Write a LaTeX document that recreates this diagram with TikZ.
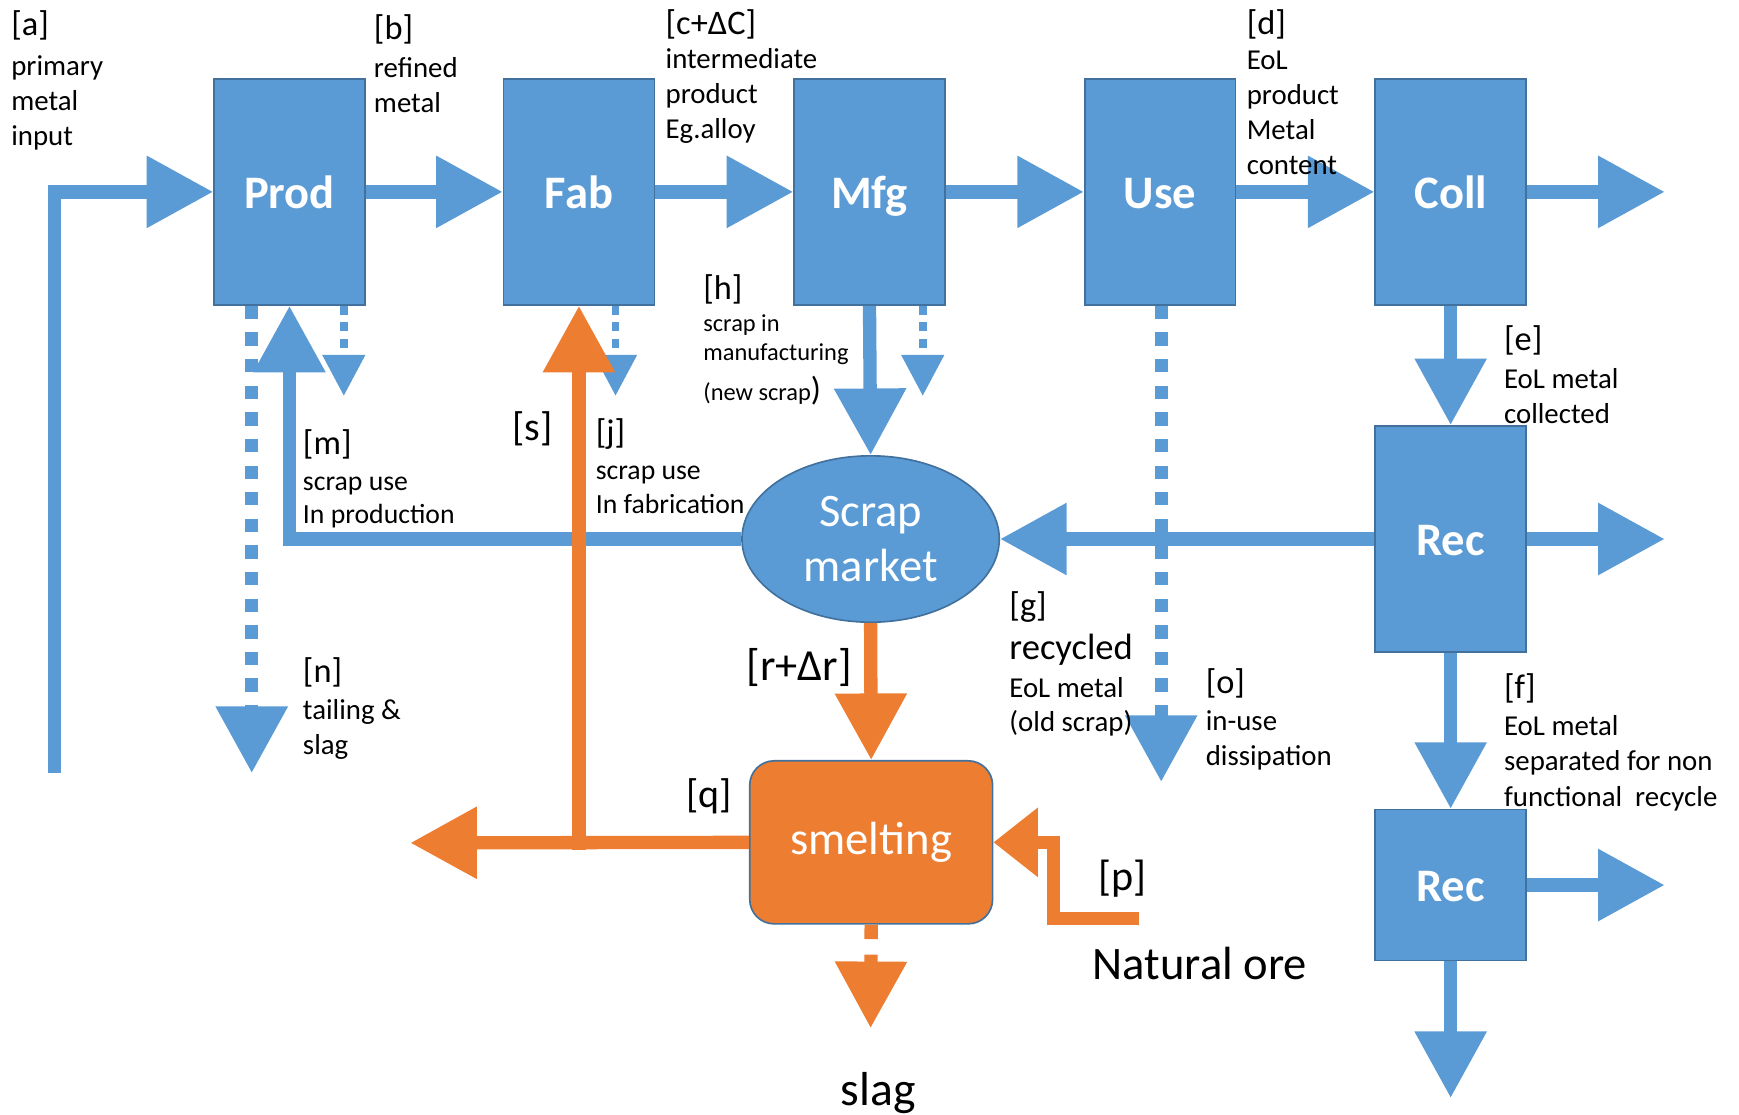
\documentclass[tikz,border=0pt]{standalone}
\usepackage{fontspec}
\setmainfont{Carlito}
\usetikzlibrary{arrows.meta,shapes.geometric}
\definecolor{flowblue}{HTML}{5B9BD5}
\definecolor{edgeblue}{HTML}{41719C}
\definecolor{floworange}{HTML}{ED7D31}
% stacked, left-aligned lines whose baseline is that of the first line
\newcommand\txtlines[2]{\vtop{\baselineskip=#1\lineskiplimit=-1000pt\lineskip=0pt\halign{##\hfil\cr#2\crcr}}}
\begin{document}
\begin{tikzpicture}[x=1pt,y=-1pt,
  procbox/.style={rectangle, fill=flowblue, draw=edgeblue, line width=1.5pt,
    minimum width=136pt, minimum height=204pt, inner sep=0pt, text=white,
    text height=37.8pt, text depth=8.4pt,
    font=\fontsize{42}{50}\selectfont\bfseries},
  flowarrow/.style={line width=12pt, line join=miter, -{Triangle[length=60pt,width=62pt]}},
  bluearrow/.style={flowarrow, draw=flowblue},
  orangearrow/.style={flowarrow, draw=floworange},
  bigdots/.style={bluearrow, dash pattern=on 12pt off 12pt},
  smalldots/.style={draw=flowblue, line width=7pt, dash pattern=on 8pt off 7pt,
    -{Triangle[length=37pt,width=37pt]}},
  tag/.style={anchor=base west, inner sep=0pt, font=\fontsize{31}{37}\selectfont},
  bigtag/.style={anchor=base west, inner sep=0pt, font=\fontsize{#1}{#1}\selectfont},
  note/.style={anchor=base west, inner sep=0pt, font=\fontsize{#1}{#1}\selectfont},
]
\useasboundingbox (0,0) rectangle (1568,1005);

% process boxes
\node[procbox] (prod) at (261,173) {Prod};
\node[procbox] (fab)  at (522,173) {Fab};
\node[procbox] (mfg)  at (784,173) {Mfg};
\node[procbox] (use)  at (1046,173) {Use};
\node[procbox] (coll) at (1308,173) {Coll};
\node[procbox] (rec)  at (1308,486) {Rec};
\node[procbox, minimum height=136pt] (recnf) at (1308,798) {Rec};
\node[ellipse, fill=flowblue, draw=edgeblue, line width=1.5pt, minimum width=232pt,
  minimum height=150pt, inner sep=0pt, text=white, align=center,
  font=\fontsize{42}{50}\selectfont] (scrap) at (785,486) {Scrap\\market};
\node[rectangle, rounded corners=22pt, fill=floworange, draw=edgeblue, line width=1.5pt,
  minimum width=219pt, minimum height=147pt, inner sep=0pt, text=white,
  font=\fontsize{42}{50}\selectfont] (smelt) at (785.5,759.5) {smelting};

% free ends of the flows
\coordinate (ain)     at (49,697);
\coordinate (collout) at (1501,173);
\coordinate (recout)  at (1501,486);
\coordinate (nfout)   at (1501,798);
\coordinate (nfdown)  at (1308,990);
\coordinate (prodloss) at (310,357);
\coordinate (fabloss)  at (555,357);
\coordinate (mfgloss)  at (832,357);
\coordinate (tail)     at (227,697);
\coordinate (dissip)   at (1047,705);
\coordinate (qout)     at (370,760);
\coordinate (sjoin)    at (522,766);
\coordinate (ore)      at (1027,828);
\coordinate (orebend)  at (950,828);
\coordinate (slagtip)  at (785,927);

% main chain
\draw[bluearrow] (ain) |- (prod.west);
\draw[bluearrow] (prod.east) -- (fab.west);
\draw[bluearrow] (fab.east) -- (mfg.west);
\draw[bluearrow] (mfg.east) -- (use.west);
\draw[bluearrow] (use.east) -- (coll.west);
\draw[bluearrow] (coll.east) -- (collout);
\draw[bluearrow] (coll.south) -- (rec.north);
\draw[bluearrow] (rec.east) -- (recout);
\draw[bluearrow] (rec.south) -- (recnf.north);
\draw[bluearrow] (recnf.east) -- (nfout);
\draw[bluearrow] (recnf.south) -- (nfdown);

% scrap flows
\draw[bluearrow] (rec.west) -- (scrap.east);
\draw[bluearrow] (scrap.west) -| (prod.south);
\draw[bluearrow] (mfg.south) -- (scrap.north);

% losses
\draw[smalldots] (prodloss |- prod.south) -- (prodloss);
\draw[smalldots] (fabloss |- fab.south) -- (fabloss);
\draw[smalldots] (mfgloss |- mfg.south) -- (mfgloss);
\draw[bigdots] (tail |- prod.south) -- (tail);
\draw[bigdots] (dissip |- use.south) -- (dissip);

% smelting loop
\draw[orangearrow] (scrap.south) -- (smelt.north);
\draw[orangearrow] (smelt.west) -- (qout);
\draw[orangearrow] (sjoin) -- (fab.south);
\draw[draw=floworange, line width=12pt, line join=miter, -{Triangle[length=40pt,width=60pt]}]
  (ore) -- (orebend) |- (smelt.east);
\draw[orangearrow, dash pattern=on 13pt off 14pt] (smelt.south) -- (slagtip);

% labels
\node[tag] (la) at (10,32) {[a]};
\node[note=26] (ta) at (10,68) {\txtlines{31.5pt}{primary\cr metal\cr input}};
\node[tag] (lb) at (337,36) {[b]};
\node[note=26] (tb) at (337,70) {\txtlines{31.5pt}{refined\cr metal}};
\node[tag] (lc) at (600,31) {[c+ΔC]};
\node[note=26] (tc) at (600,62) {\txtlines{31.5pt}{intermediate\cr product\cr Eg.alloy}};
\node[tag] (ld) at (1124,31) {[d]};
\node[note=26] (td) at (1124,63) {\txtlines{31.5pt}{EoL\cr product\cr Metal\cr content}};
\node[tag] (le) at (1356,316) {[e]};
\node[note=26] (te) at (1356,350) {\txtlines{31.5pt}{EoL metal\cr collected}};
\node[tag] (lf) at (1356,630) {[f]};
\node[note=26] (tf) at (1356,663) {\txtlines{32pt}{EoL metal\cr separated for non\cr functional\ \ recycle}};
\node[tag] (lh) at (634,270) {[h]};
\node[note=22] (th) at (634,299) {\txtlines{26pt}{scrap in\cr manufacturing\cr\noalign{\vskip10pt}(new scrap{\fontsize{30}{30}\selectfont)}}};
\node[tag] (lm) at (273,410) {[m]};
\node[note=25] (tm) at (273,442) {\txtlines{30pt}{scrap use\cr In production}};
\node[tag] (lj) at (537,400) {[j]};
\node[note=25] (tj) at (537,432) {\txtlines{31pt}{scrap use\cr In fabrication}};
\node[bigtag=36] (ls) at (462,397) {[s]};
\node[tag] (ln) at (273,615) {[n]};
\node[note=26] (tn) at (273,649) {\txtlines{31pt}{tailing \&\cr slag}};
\node[bigtag=40] (lr) at (673,614) {[r+Δr]};
\node[tag] (lg) at (910,556) {[g]};
\node[note=33] (tg) at (910,595) {recycled};
\node[note=26] (tg2) at (910,629) {\txtlines{31pt}{EoL metal\cr (old scrap)}};
\node[tag] (lo) at (1087,625) {[o]};
\node[note=26] (to) at (1087,659) {\txtlines{31pt}{in-use\cr dissipation}};
\node[bigtag=36] (lq) at (619,728) {[q]};
\node[bigtag=38] (lp) at (990,803) {[p]};
\node[note=42] (nat) at (985,883) {Natural ore};
\node[note=43] (slag) at (758,997) {slag};
\end{tikzpicture}
\end{document}
